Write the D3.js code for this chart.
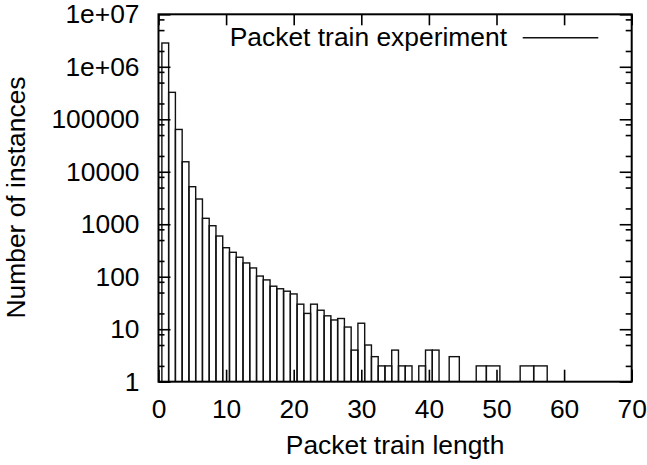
<!DOCTYPE html>
<html><head><meta charset="utf-8">
<script src="https://cdn.jsdelivr.net/npm/d3@7"></script>
<style>body{margin:0;background:#fff}svg{display:block}</style>
</head><body>
<svg id="chart" width="647" height="465"></svg>
<script>
// Packet train length (x) and number of instances (y)
const lengths = [1,2,3,4,5,6,7,8,9,10,11,12,13,14,15,16,17,18,19,20,21,22,23,24,25,26,27,28,29,30,31,32,33,34,35,36,37,38,39,40,41,42,44,45,46,48,49,52,55,56,59];
const counts  = [2840000,326000,64000,15500,5190,3025,1297,937,597,357,292,235,183,147,103,87,66,59,53,47,30,20,30,23,18,15,16,11,4,13,5,3,2,2,4,2,2,1,2,4,4,1,3,1,1,2,2,1,2,2,1];
const xTicks = [0,10,20,30,40,50,60,70];
const yTicks = [1,10,100,1000,10000,100000,1000000,10000000];
const yTickLabels = ["1","10","100","1000","10000","100000","1e+06","1e+07"];
const yMinorFactors = [2,5,8];
const seriesName = "Packet train experiment";
const xLabel = "Packet train length";
const yLabel = "Number of instances";

const W = 647, H = 465;
const m = {left:158.5, right:W-631.7, top:14.3, bottom:H-381.7};
const FONT = "'Liberation Sans', Arial, Helvetica, sans-serif";
const FS = 26.4;
const svg = d3.select("#chart");

const x = d3.scaleLinear().domain([0,70]).range([m.left, W-m.right]);
const y = d3.scaleLog().domain([1,1e7]).range([H-m.bottom, m.top]);

// boxes: width extends to touch neighbours (midpoints)
const n = lengths.length;
const boxes = lengths.map((v,i)=>{
  const l = i>0 ? (lengths[i-1]+v)/2 : v-(lengths[1]-lengths[0])/2;
  const r = i<n-1 ? (v+lengths[i+1])/2 : v+(v-lengths[i-1])/2;
  return {l, r, c: counts[i]};
});

svg.append("defs").append("clipPath").attr("id","clip")
  .append("rect").attr("x",x(0)).attr("y",y(1e7)).attr("width",x(70)-x(0)).attr("height",y(1)-y(1e7));

svg.append("g").attr("clip-path","url(#clip)")
  .selectAll("rect").data(boxes.filter(b=>b.c>1)).join("rect")
  .attr("x",d=>x(d.l)).attr("width",d=>x(d.r)-x(d.l))
  .attr("y",d=>y(d.c)).attr("height",d=>y(1)-y(d.c))
  .attr("fill","none").attr("stroke","#111").attr("stroke-width",1.4);

const minorVals = [];
yTicks.slice(0,-1).forEach(t=>yMinorFactors.forEach(f=>minorVals.push(t*f)));

function styleAxis(g){
  g.select(".domain").remove();
  g.selectAll(".tick line").attr("stroke","#000").attr("stroke-width",1.6);
  g.selectAll("text").attr("font-family",FONT).attr("font-size",FS).attr("fill","#000");
}
// left
svg.append("g").attr("transform",`translate(${x(0)},0)`)
  .call(d3.axisLeft(y).tickValues(yTicks).tickFormat((d,i)=>yTickLabels[i]).tickSize(-12).tickPadding(19))
  .call(styleAxis);
svg.append("g").attr("transform",`translate(${x(0)},0)`)
  .call(d3.axisLeft(y).tickValues(minorVals).tickFormat("").tickSize(-6))
  .call(styleAxis);
// right
svg.append("g").attr("transform",`translate(${x(70)},0)`)
  .call(d3.axisRight(y).tickValues(yTicks).tickFormat("").tickSize(-12))
  .call(styleAxis);
svg.append("g").attr("transform",`translate(${x(70)},0)`)
  .call(d3.axisRight(y).tickValues(minorVals).tickFormat("").tickSize(-6))
  .call(styleAxis);
// bottom
svg.append("g").attr("transform",`translate(0,${y(1)})`)
  .call(d3.axisBottom(x).tickValues(xTicks).tickFormat(d3.format("d")).tickSize(-12).tickPadding(18))
  .call(styleAxis);
// top
svg.append("g").attr("transform",`translate(0,${y(1e7)})`)
  .call(d3.axisTop(x).tickValues(xTicks).tickFormat("").tickSize(-11))
  .call(styleAxis);

// border
svg.append("rect").attr("x",x(0)).attr("y",y(1e7)).attr("width",x(70)-x(0)).attr("height",y(1)-y(1e7))
  .attr("fill","none").attr("stroke","#000").attr("stroke-width",2);

// legend
svg.append("text").attr("x",507).attr("y",46).attr("text-anchor","end")
  .attr("font-family",FONT).attr("font-size",FS).text(seriesName);
svg.append("line").attr("x1",522.7).attr("x2",598.3).attr("y1",37.7).attr("y2",37.7)
  .attr("stroke","#111").attr("stroke-width",1.4);

// axis labels
svg.append("text").attr("x",(x(0)+x(70))/2).attr("y",454).attr("text-anchor","middle")
  .attr("font-family",FONT).attr("font-size",FS).text(xLabel);
svg.append("text").attr("transform",`translate(25,197.5) rotate(-90)`).attr("text-anchor","middle")
  .attr("font-family",FONT).attr("font-size",FS).text(yLabel);
</script>
</body></html>
